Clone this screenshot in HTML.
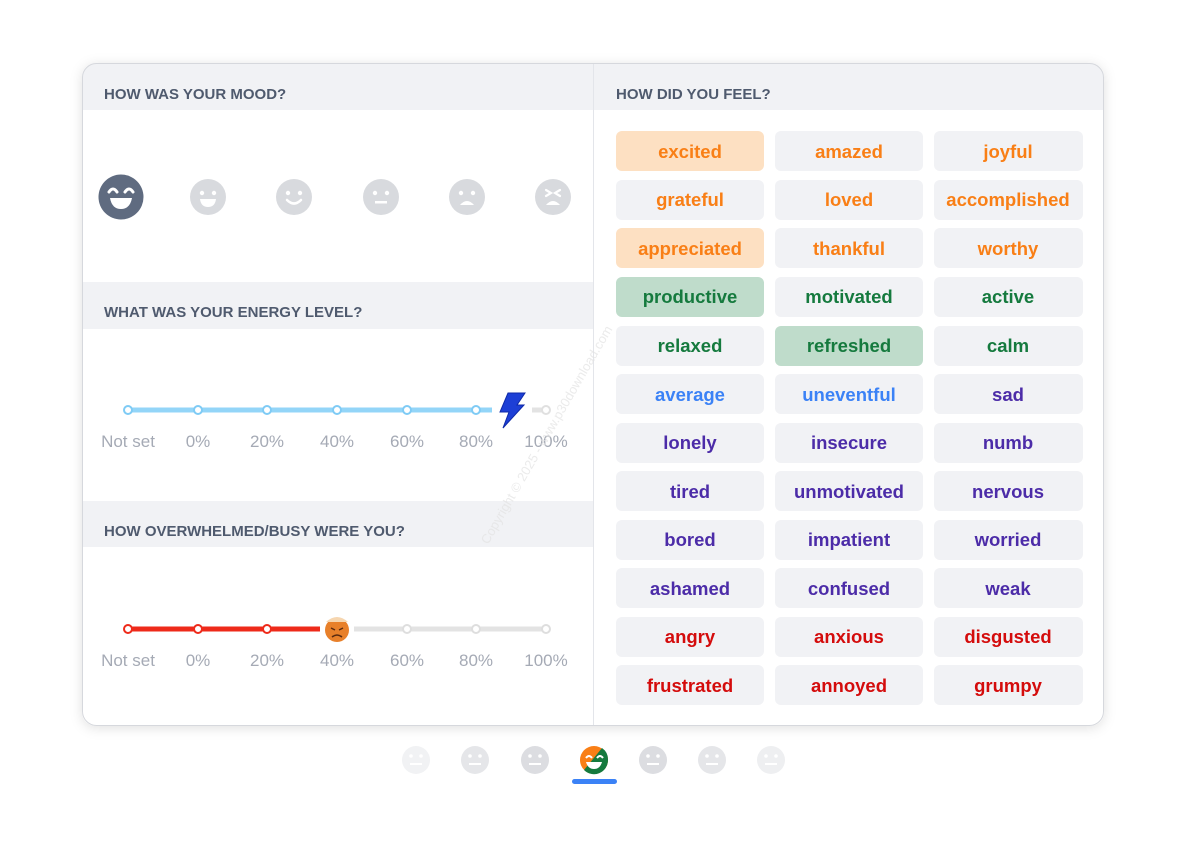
<!DOCTYPE html>
<html><head><meta charset="utf-8"><style>
html,body{margin:0;padding:0;background:#fff;width:1180px;height:868px;overflow:hidden}
svg text{font-family:"Liberation Sans",Arial,sans-serif}
</style></head><body>
<svg width="1180" height="868" viewBox="0 0 1180 868" xmlns="http://www.w3.org/2000/svg">
<defs>
<filter id="sh" x="-5%" y="-5%" width="110%" height="115%"><feDropShadow dx="0" dy="2" stdDeviation="6" flood-color="#000" flood-opacity="0.12"/></filter>
<clipPath id="cc"><rect x="82" y="63" width="1022" height="663" rx="14"/></clipPath>
</defs>
<rect x="82" y="63" width="1022" height="663" rx="14" fill="#fff" filter="url(#sh)"/>
<g clip-path="url(#cc)">
<rect x="82" y="63" width="1022" height="47" fill="#f1f2f5"/>
<rect x="82" y="282" width="511" height="47" fill="#f1f2f5"/>
<rect x="82" y="501" width="511" height="46" fill="#f1f2f5"/>
<rect x="593" y="63" width="1" height="663" fill="#e3e5ea"/>
</g>
<rect x="82.5" y="63.5" width="1021" height="662" rx="14" fill="none" stroke="#d6d8dd"/>
<g font-size="15" font-weight="bold" fill="#4f5a6e">
<text x="104" y="99">HOW WAS YOUR MOOD?</text>
<text x="104" y="317">WHAT WAS YOUR ENERGY LEVEL?</text>
<text x="104" y="536">HOW OVERWHELMED/BUSY WERE YOU?</text>
<text x="616" y="99">HOW DID YOU FEEL?</text>
</g>
<!-- mood faces -->
<g>
<circle cx="121" cy="197" r="22.5" fill="#5f6b80"/>
<path d="M109 192 q4 -6 8 0 M125 192 q4 -6 8 0" stroke="#fff" stroke-width="3" fill="none" stroke-linecap="round"/>
<path d="M110 198 h22 q-2 11 -11 11 q-9 0 -11 -11z" fill="#fff"/>
</g>
<g fill="#d8dade">
<circle cx="208" cy="197" r="18"/><circle cx="294" cy="197" r="18"/><circle cx="381" cy="197" r="18"/><circle cx="467" cy="197" r="18"/><circle cx="553" cy="197" r="18"/>
</g>
<g fill="#fff" stroke="#fff">
<circle cx="202" cy="193" r="2.2" stroke="none"/><circle cx="214" cy="193" r="2.2" stroke="none"/>
<path d="M200 199 h16 q-1 8 -8 8 q-7 0 -8 -8z" stroke="none"/>
<circle cx="288" cy="193" r="2.2" stroke="none"/><circle cx="300" cy="193" r="2.2" stroke="none"/>
<path d="M287 200 q7 7 14 0" fill="none" stroke-width="2.5" stroke-linecap="round"/>
<circle cx="375" cy="193" r="2.2" stroke="none"/><circle cx="387" cy="193" r="2.2" stroke="none"/>
<rect x="375" y="201" width="12" height="2.5" stroke="none"/>
<circle cx="461" cy="193" r="2.2" stroke="none"/><circle cx="473" cy="193" r="2.2" stroke="none"/>
<path d="M460 205 q7 -8 14 0z" stroke="none"/>
<path d="M546 190 l5 3 l-5 3 M560 190 l-5 3 l5 3" fill="none" stroke-width="2.2" stroke-linecap="round"/>
<path d="M546 205 q7 -8 14 0z" stroke="none"/>
</g>
<!-- energy slider -->
<line x1="128" y1="410" x2="492" y2="410" stroke="#93d5f8" stroke-width="5"/>
<line x1="532" y1="410" x2="546" y2="410" stroke="#e3e3e3" stroke-width="5"/>
<g fill="#fff" stroke="#7fcbf5" stroke-width="2">
<circle cx="128" cy="410" r="4"/><circle cx="198" cy="410" r="4"/><circle cx="267" cy="410" r="4"/><circle cx="337" cy="410" r="4"/><circle cx="407" cy="410" r="4"/><circle cx="476" cy="410" r="4"/>
</g>
<circle cx="546" cy="410" r="4" fill="#fff" stroke="#e0e0e0" stroke-width="2"/>
<polygon points="508,393 525,393 517,405 524,405 503,428 509,412 500,412" fill="#1d3fd6" stroke="#0f2aa8" stroke-width="1"/>
<g font-size="17" fill="#a5aab5" text-anchor="middle">
<text x="128" y="447">Not set</text><text x="198" y="447">0%</text><text x="267" y="447">20%</text><text x="337" y="447">40%</text><text x="407" y="447">60%</text><text x="476" y="447">80%</text><text x="546" y="447">100%</text>
<text x="128" y="666">Not set</text><text x="198" y="666">0%</text><text x="267" y="666">20%</text><text x="337" y="666">40%</text><text x="407" y="666">60%</text><text x="476" y="666">80%</text><text x="546" y="666">100%</text>
</g>
<!-- busy slider -->
<line x1="128" y1="629" x2="320" y2="629" stroke="#ee2a1a" stroke-width="5"/>
<line x1="354" y1="629" x2="546" y2="629" stroke="#e3e3e3" stroke-width="5"/>
<g fill="#fff" stroke="#ee2a1a" stroke-width="2"><circle cx="128" cy="629" r="4"/><circle cx="198" cy="629" r="4"/><circle cx="267" cy="629" r="4"/></g>
<g fill="#fff" stroke="#dedede" stroke-width="2"><circle cx="407" cy="629" r="4"/><circle cx="476" cy="629" r="4"/><circle cx="546" cy="629" r="4"/></g>
<circle cx="337" cy="630" r="12" fill="#e8802a"/>
<path d="M326 622 q11 -10 22 0" fill="#f6d6b0"/>
<path d="M331 628 l4 2 M343 628 l-4 2" stroke="#5a2a10" stroke-width="1.5"/>
<path d="M332 637 q5 -4 10 0" stroke="#5a2a10" stroke-width="1.5" fill="none"/>
<!-- chips -->
<g font-size="18.5" font-weight="bold" text-anchor="middle">
<g fill="#f1f2f5">
<rect x="616" y="131" width="148" height="40" rx="6" fill="#fde0c2"/><rect x="775" y="131" width="148" height="40" rx="6"/><rect x="934" y="131" width="149" height="40" rx="6"/>
<rect x="616" y="180" width="148" height="40" rx="6"/><rect x="775" y="180" width="148" height="40" rx="6"/><rect x="934" y="180" width="149" height="40" rx="6"/>
<rect x="616" y="228" width="148" height="40" rx="6" fill="#fde0c2"/><rect x="775" y="228" width="148" height="40" rx="6"/><rect x="934" y="228" width="149" height="40" rx="6"/>
<rect x="616" y="277" width="148" height="40" rx="6" fill="#bfdccb"/><rect x="775" y="277" width="148" height="40" rx="6"/><rect x="934" y="277" width="149" height="40" rx="6"/>
<rect x="616" y="326" width="148" height="40" rx="6"/><rect x="775" y="326" width="148" height="40" rx="6" fill="#bfdccb"/><rect x="934" y="326" width="149" height="40" rx="6"/>
<rect x="616" y="374" width="148" height="40" rx="6"/><rect x="775" y="374" width="148" height="40" rx="6"/><rect x="934" y="374" width="149" height="40" rx="6"/>
<rect x="616" y="423" width="148" height="40" rx="6"/><rect x="775" y="423" width="148" height="40" rx="6"/><rect x="934" y="423" width="149" height="40" rx="6"/>
<rect x="616" y="471" width="148" height="40" rx="6"/><rect x="775" y="471" width="148" height="40" rx="6"/><rect x="934" y="471" width="149" height="40" rx="6"/>
<rect x="616" y="520" width="148" height="40" rx="6"/><rect x="775" y="520" width="148" height="40" rx="6"/><rect x="934" y="520" width="149" height="40" rx="6"/>
<rect x="616" y="568" width="148" height="40" rx="6"/><rect x="775" y="568" width="148" height="40" rx="6"/><rect x="934" y="568" width="149" height="40" rx="6"/>
<rect x="616" y="617" width="148" height="40" rx="6"/><rect x="775" y="617" width="148" height="40" rx="6"/><rect x="934" y="617" width="149" height="40" rx="6"/>
<rect x="616" y="665" width="148" height="40" rx="6"/><rect x="775" y="665" width="148" height="40" rx="6"/><rect x="934" y="665" width="149" height="40" rx="6"/>
</g>
<g fill="#f97f16">
<text x="690" y="158">excited</text><text x="849" y="158">amazed</text><text x="1008" y="158">joyful</text>
<text x="690" y="206">grateful</text><text x="849" y="206">loved</text><text x="1008" y="206">accomplished</text>
<text x="690" y="255">appreciated</text><text x="849" y="255">thankful</text><text x="1008" y="255">worthy</text>
</g>
<g fill="#157a3e">
<text x="690" y="303">productive</text><text x="849" y="303">motivated</text><text x="1008" y="303">active</text>
<text x="690" y="352">relaxed</text><text x="849" y="352">refreshed</text><text x="1008" y="352">calm</text>
</g>
<g fill="#3b82f6"><text x="690" y="401">average</text><text x="849" y="401">uneventful</text></g>
<g fill="#4c2ca8">
<text x="1008" y="401">sad</text>
<text x="690" y="449">lonely</text><text x="849" y="449">insecure</text><text x="1008" y="449">numb</text>
<text x="690" y="498">tired</text><text x="849" y="498">unmotivated</text><text x="1008" y="498">nervous</text>
<text x="690" y="546">bored</text><text x="849" y="546">impatient</text><text x="1008" y="546">worried</text>
<text x="690" y="595">ashamed</text><text x="849" y="595">confused</text><text x="1008" y="595">weak</text>
</g>
<g fill="#d40c0c">
<text x="690" y="643">angry</text><text x="849" y="643">anxious</text><text x="1008" y="643">disgusted</text>
<text x="690" y="692">frustrated</text><text x="849" y="692">annoyed</text><text x="1008" y="692">grumpy</text>
</g>
</g>
<!-- watermark -->
<text x="0" y="0" transform="translate(488,545) rotate(-60)" font-size="13" fill="#e2e2e2" fill-opacity="0.7">Copyright © 2025 - www.p30download.com</text>
<!-- bottom faces -->
<g>
<circle cx="416" cy="760" r="14" fill="#f1f2f4"/>
<circle cx="475" cy="760" r="14" fill="#e5e6e9"/>
<circle cx="535" cy="760" r="14" fill="#dcdde1"/>
<circle cx="653" cy="760" r="14" fill="#dcdde1"/>
<circle cx="712" cy="760" r="14" fill="#e5e6e9"/>
<circle cx="771" cy="760" r="14" fill="#eeeff1"/>
<g fill="#fff">
<rect x="410" y="763" width="12" height="2"/><rect x="469" y="763" width="12" height="2"/><rect x="529" y="763" width="12" height="2"/><rect x="647" y="763" width="12" height="2"/><rect x="706" y="763" width="12" height="2"/><rect x="765" y="763" width="12" height="2"/>
<circle cx="411" cy="756" r="1.8"/><circle cx="421" cy="756" r="1.8"/>
<circle cx="470" cy="756" r="1.8"/><circle cx="480" cy="756" r="1.8"/>
<circle cx="530" cy="756" r="1.8"/><circle cx="540" cy="756" r="1.8"/>
<circle cx="648" cy="756" r="1.8"/><circle cx="658" cy="756" r="1.8"/>
<circle cx="707" cy="756" r="1.8"/><circle cx="717" cy="756" r="1.8"/>
<circle cx="766" cy="756" r="1.8"/><circle cx="776" cy="756" r="1.8"/>
</g>
<circle cx="594" cy="760" r="14" fill="#f97f16"/>
<path d="M608 760 a14 14 0 0 1 -24 10 l18 -22 a14 14 0 0 1 6 12z" fill="#157a3e"/>
<path d="M586 758 q3 -4 6 0 M597 758 q3 -4 6 0" stroke="#fff" stroke-width="2" fill="none"/>
<path d="M586 762 h16 q-2 7 -8 7 q-6 0 -8 -7z" fill="#fff"/>
<rect x="572" y="779" width="45" height="5" rx="2.5" fill="#3b82f6"/>
</g>
</svg>
</body></html>
